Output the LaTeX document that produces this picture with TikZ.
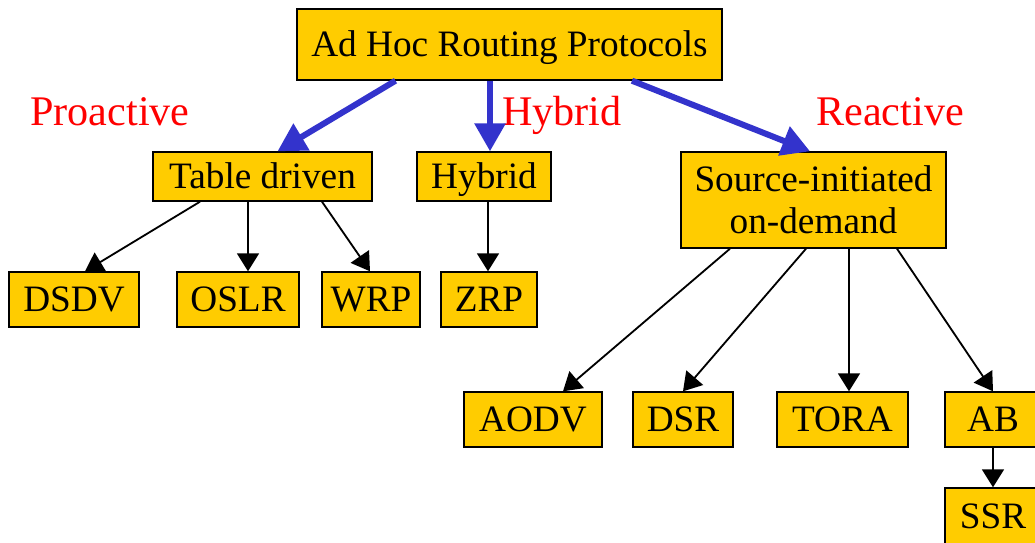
\documentclass[tikz,border=0pt]{standalone}
\usepackage{fontspec}
\setmainfont{Liberation Serif}
\usetikzlibrary{arrows.meta}
\definecolor{boxgold}{RGB}{255,204,0}
\definecolor{linkblue}{RGB}{51,51,204}
\tikzset{
    proto/.style 2 args={draw, fill=boxgold, line width=1pt, inner sep=0pt,
        minimum width=#1*0.025cm, minimum height=#2*0.025cm, align=center,
        font=\fontsize{26.5}{30}\selectfont},
    oneline/.style={text height=21pt, text depth=4pt},
    kind/.style={text=red, anchor=base, font=\fontsize{30}{34}\selectfont},
    mainarr/.style={linkblue, line width=4.3pt,
        -{Triangle[length=0.7cm, width=0.75cm]}},
    subarr/.style={line width=1.3pt,
        -{Triangle[length=0.45cm, width=0.55cm]}}
}
\begin{document}
\begin{tikzpicture}[x=0.025cm, y=-0.025cm]
    \useasboundingbox (0,0) rectangle (1035,542);

    \node[proto={425}{71}, oneline] (root) at (509.5, 44.5){Ad Hoc Routing Protocols};

    \node[kind] (proact) at (110, 125){Proactive};
    \node[kind] (hyb) at (562, 125){Hybrid};
    \node[kind] (react) at (890, 125){Reactive};

    \node[proto={219}{49}, oneline] (table) at (262.5, 176.5){Table driven};
    \node[proto={134}{49}, oneline] (hybrid) at (484, 176.5){Hybrid};
    \node[proto={265}{96}] (source) at (813.5, 200){Source-initiated\\on-demand};

    \node[proto={130}{55}, oneline] (dsdv) at (74, 299.5){DSDV};
        \node[proto={122}{55}, oneline] (oslr) at (238, 299.5){OSLR};
        \node[proto={98}{55}, oneline] (wrp) at (371, 299.5){WRP};
    \node[proto={96}{55}, oneline] (zrp) at (489, 299.5){ZRP};

    \node[proto={138}{55}, oneline] (aodv) at (533, 419.5){AODV};
        \node[proto={100}{55}, oneline] (dsr) at (683, 419.5){DSR};
        \node[proto={131}{55}, oneline] (tora) at (842.5, 419.5){TORA};
        \node[proto={96}{55}, oneline] (ab) at (993, 419.5){AB};
    \node[proto={96}{58}, oneline] (ssr) at (993, 517){SSR};

    % main classes
    \draw[mainarr]([xshift=-114*0.025cm]root.south) to ([xshift=15*0.025cm]table.north);
    \draw[mainarr]([xshift=-19.5*0.025cm]root.south) to ([xshift=6*0.025cm]hybrid.north);
    \draw[mainarr]([xshift=122.5*0.025cm]root.south) to ([xshift=-3.5*0.025cm]source.north);

    % table driven
    \draw[subarr]([xshift=-62.5*0.025cm]table.south) to ([xshift=11*0.025cm]dsdv.north);
    \draw[subarr]([xshift=-14.5*0.025cm]table.south) to ([xshift=10*0.025cm]oslr.north);
    \draw[subarr]([xshift=59.5*0.025cm]table.south) to ([xshift=-1*0.025cm]wrp.north);

    % hybrid
    \draw[subarr]([xshift=4*0.025cm]hybrid.south) to ([xshift=-1*0.025cm]zrp.north);

    % on-demand
    \draw[subarr]([xshift=-83.5*0.025cm]source.south) to ([xshift=30*0.025cm]aodv.north);
    \draw[subarr]([xshift=-7.5*0.025cm]source.south) to (dsr.north);
    \draw[subarr]([xshift=35.5*0.025cm]source.south) to ([xshift=6.5*0.025cm]tora.north);
    \draw[subarr]([xshift=83.5*0.025cm]source.south) to (ab.north);
    \draw[subarr](ab.south) to (ssr.north);
\end{tikzpicture}
\end{document}
